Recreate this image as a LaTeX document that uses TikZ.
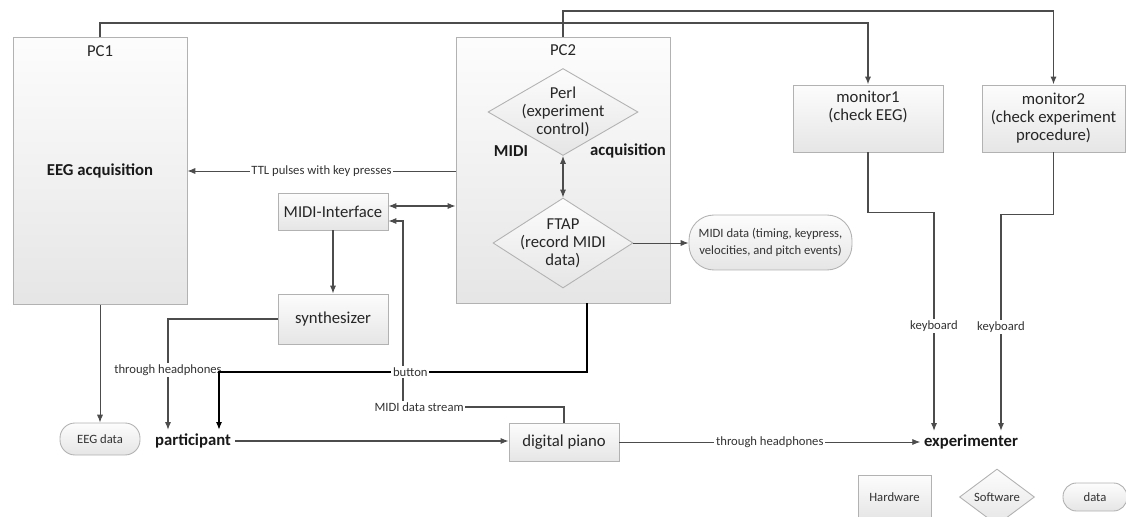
\documentclass[tikz,border=0pt]{standalone}
\usepackage{fontspec}
\setmainfont{Carlito}
\usetikzlibrary{shapes.geometric,arrows.meta,positioning,calc}

\tikzset{
  boxtxt/.style={align=center, inner sep=1pt, text=black!85, font=\fontsize{9.5}{10.2}\selectfont},
  smalltxt/.style={align=center, inner sep=1pt, text=black!80, font=\fontsize{7.2}{10}\selectfont},
  hw/.style={draw=black!30, line width=0.5pt, top color=black!1, bottom color=black!10, boxtxt},
  sw/.style={hw, diamond},
  dat/.style={hw, rounded corners=0.3cm, smalltxt},
  actor/.style={inner sep=2pt, text=black!90, font=\bfseries\fontsize{9.5}{10.2}\selectfont},
  conn/.style={draw=black!70, line width=0.7pt},
  thinconn/.style={draw=black!70, line width=0.5pt},
  bus/.style={draw=black!70, line width=0.9pt},
  btn/.style={draw=black, line width=1.1pt},
  lbl/.style={fill=white, inner sep=1pt, text=black!80, font=\fontsize{7.2}{8}\selectfont},
}

\begin{document}
\begin{tikzpicture}[x=0.02cm, y=-0.02cm, >={Latex[length=4.5pt,width=3.5pt]}]
\useasboundingbox (0,0) rectangle (1126,517);
\clip (0,0) rectangle (1126,517);

% computers
\node[hw, minimum width=3.48cm, minimum height=5.34cm] (pc1) at (100,171) {};
\node[boxtxt, below=0.12cm of pc1.north] (pc1t) {PC1};
\node[actor] (eegacq) at (pc1) {EEG acquisition};
\node[hw, minimum width=4.28cm, minimum height=5.32cm] (pc2) at (563,170) {};
\node[boxtxt, below=0.12cm of pc2.north] (pc2t) {PC2};

% software inside PC2
\node[sw, minimum width=3cm, minimum height=1.74cm,
  label={[boxtxt]center:Perl\\(experiment\\control)}] (perl) at (563,112) {};
\node[sw, minimum width=2.8cm, minimum height=1.8cm,
  label={[boxtxt]center:FTAP\\(record MIDI\\data)}] (ftap) at (563,243) {};
\node[actor] (midit) at (511,151) {MIDI};
\node[actor] (acqt) at (628,151) {acquisition};

% hardware
\node[hw, minimum width=2.2cm, minimum height=0.74cm] (midiif) at (333,211.5) {MIDI-Interface};
\node[hw, minimum width=2.2cm, minimum height=1cm] (synth) at (333,319) {synthesizer};
\node[hw, minimum width=3cm, minimum height=1.34cm,
  label={[boxtxt,yshift=0.24cm]center:monitor1\\(check EEG)}] (mon1) at (868,118.5) {};
\node[hw, minimum width=2.86cm, minimum height=1.34cm] (mon2) at (1053.5,118.5) {monitor2\\(check experiment\\procedure)};
\node[hw, minimum width=2.2cm, minimum height=0.76cm] (piano) at (564,442) {digital piano};

% data
\node[dat, minimum width=3.26cm, minimum height=1.1cm, rounded corners=0.5cm] (midid) at (770.5,242.5) {MIDI data (timing, keypress,\\velocities, and pitch events)};
\node[dat, minimum width=1.6cm, minimum height=0.64cm] (eegd) at (100,439) {EEG data};

% people
\node[actor] (part) at (193,441) {participant};
\node[actor] (exper) at (971,442) {experimenter};

% legend
\node[hw, smalltxt, minimum width=1.46cm, minimum height=0.88cm] (hwleg) at (894.5,497) {Hardware};
\node[sw, minimum width=1.5cm, minimum height=1.12cm,
  label={[smalltxt]center:Software}] (swleg) at (997,497) {};
\node[dat, minimum width=1.28cm, minimum height=0.56cm, rounded corners=0.27cm] (datleg) at (1095,497) {data};

% connectors
\coordinate (busA) at (0,23);
\coordinate (busB) at (0,11);
\coordinate (mdsturn) at (403,407);
\coordinate (btnturn) at (219,372);

\draw[bus,->] (pc1.north) -- (pc1.north |- busA) -| (mon1.north);
\draw[bus,->] (pc2.north) -- (pc2.north |- busB) -| (mon2.north);
\draw[thinconn,->] (pc2.west |- pc1.east) -- node[lbl]{TTL pulses with key presses} (pc1.east);
\draw[conn,<->] ([yshift=0.11cm]midiif.east) -- ([yshift=0.11cm]midiif.east -| pc2.west);
\draw[conn,->] (midiif) -- (synth);
\draw[conn,<->] (perl) -- (ftap);
\draw[thinconn,->] (ftap.east) -- (ftap.east -| midid.west);
\draw[thinconn,->] (pc1) -- (eegd);
\draw[conn,->] (synth.west) -| node[lbl,pos=0.73]{through headphones} ([xshift=-0.5cm]part.north);
\draw[conn,->] (piano.north) |- node[lbl,pos=0.95]{MIDI data stream} (mdsturn) |- ([yshift=-0.19cm]midiif.east);
\draw[btn,->] ([xshift=0.48cm]pc2.south) |- node[lbl,pos=0.74]{button} (btnturn) -- (btnturn |- part.north);
\draw[conn,->] (part.east) -- (part.east -| piano.west);
\draw[thinconn,->] (piano.east) -- node[lbl]{through headphones} (piano.east -| exper.west);
\draw[conn,->] (mon1.south) -- ++(0,60) -| node[lbl,pos=0.76]{keyboard} ([xshift=-0.74cm]exper.north);
\draw[conn,->] (mon2.south) -- ++(0,62) -| node[lbl,pos=0.76]{keyboard} ([xshift=0.6cm]exper.north);
\end{tikzpicture}
\end{document}
